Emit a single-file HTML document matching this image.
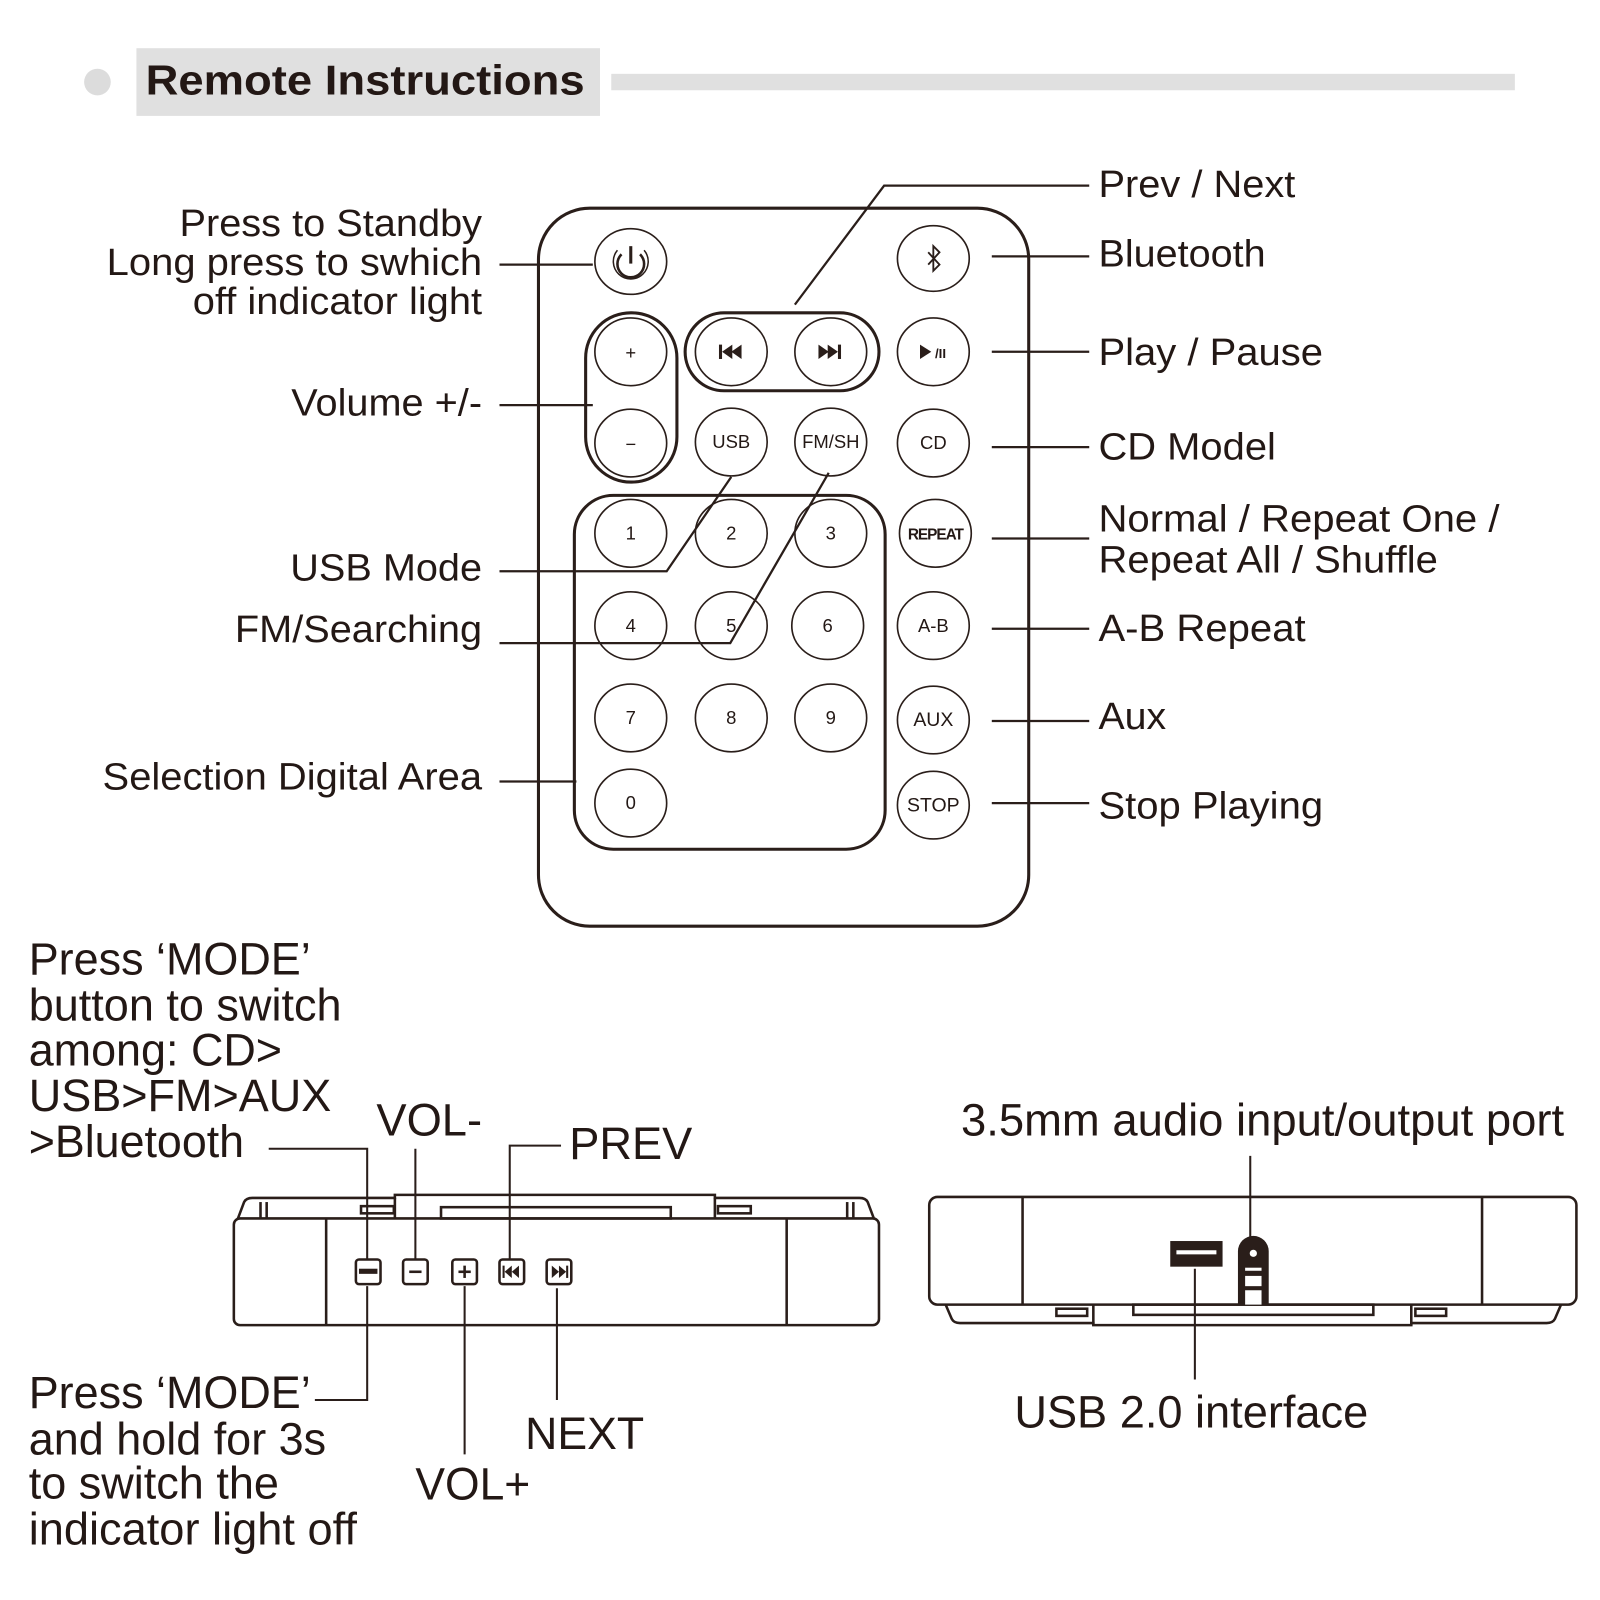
<!DOCTYPE html>
<html><head><meta charset="utf-8"><style>
html,body{margin:0;padding:0;background:#fff;}
svg{display:block;}
text{font-family:"Liberation Sans",Arial,sans-serif;fill:#231815;}
</style></head><body>
<svg width="1600" height="1600" viewBox="0 0 1560 1560" xmlns="http://www.w3.org/2000/svg">
<g>
<circle cx="95" cy="80" r="13" fill="#dcdcdc"/>
<rect x="133" y="47" width="452" height="66" fill="#e0e0e0"/>
<text x="142" y="92" font-size="41" font-weight="bold" textLength="428" lengthAdjust="spacingAndGlyphs">Remote Instructions</text>
<rect x="596" y="72" width="881" height="16" fill="#e0e0e0"/>
</g>

<g fill="none" stroke="#2a1e1a">
<rect x="525" y="203" width="478" height="700" rx="50" stroke-width="3"/>
<rect x="571" y="305" width="89" height="165" rx="44" stroke-width="3"/>
<rect x="668" y="305" width="189" height="76" rx="38" stroke-width="3"/>
<rect x="560" y="483" width="303" height="345" rx="38" stroke-width="3"/>
<g stroke-width="1.6">
<ellipse cx="615" cy="255" rx="35" ry="32"/>
<ellipse cx="910" cy="252" rx="35" ry="32"/>
<ellipse cx="615" cy="343" rx="35" ry="33"/>
<ellipse cx="615" cy="432" rx="35" ry="33"/>
<ellipse cx="713" cy="343" rx="35" ry="33"/>
<ellipse cx="810" cy="343" rx="35" ry="33"/>
<ellipse cx="910" cy="343" rx="35" ry="33"/>
<ellipse cx="713" cy="431" rx="35" ry="33"/>
<ellipse cx="810" cy="431" rx="35" ry="33"/>
<ellipse cx="910" cy="432" rx="35" ry="33"/>
<ellipse cx="615" cy="520" rx="35" ry="33"/>
<ellipse cx="713" cy="520" rx="35" ry="33"/>
<ellipse cx="810" cy="520" rx="35" ry="33"/>
<ellipse cx="615" cy="610" rx="35" ry="33"/>
<ellipse cx="713" cy="610" rx="35" ry="33"/>
<ellipse cx="807" cy="610" rx="35" ry="33"/>
<ellipse cx="615" cy="700" rx="35" ry="33"/>
<ellipse cx="713" cy="700" rx="35" ry="33"/>
<ellipse cx="810" cy="700" rx="35" ry="33"/>
<ellipse cx="615" cy="783" rx="35" ry="33"/>
<ellipse cx="912" cy="520" rx="35" ry="33"/>
<ellipse cx="910" cy="610" rx="35" ry="33"/>
<ellipse cx="910" cy="702" rx="35" ry="33"/>
<ellipse cx="910" cy="785" rx="35" ry="33"/>
</g>
<path d="M606 248 A13 13 0 1 0 624 248" stroke-width="2.5"/>
<path d="M602 244 A17 17 0 1 0 628 244" stroke-width="1.5"/>
<line x1="615" y1="240" x2="615" y2="257" stroke-width="3"/>
<path d="M905 246 L916 258 L910 264 L910 240 L916 246 L905 258" stroke-width="1.8"/>
<g stroke-width="2.2">
<polyline points="487,258 578,258"/>
<polyline points="487,395 578,395"/>
<polyline points="487,557 650,557 713,465"/>
<polyline points="487,627 712,627 808,461"/>
<polyline points="487,762 562,762"/>
<polyline points="1062,181 862,181 775,297"/>
<line x1="967" y1="250" x2="1062" y2="250"/>
<line x1="967" y1="343" x2="1062" y2="343"/>
<line x1="967" y1="436" x2="1062" y2="436"/>
<line x1="967" y1="525" x2="1062" y2="525"/>
<line x1="967" y1="613" x2="1062" y2="613"/>
<line x1="967" y1="703" x2="1062" y2="703"/>
<line x1="967" y1="783" x2="1062" y2="783"/>
</g>
</g>
<g fill="#2a1e1a">
<rect x="701" y="336" width="3" height="14"/>
<path d="M704 343 L714 336 L714 350Z M713 343 L723 336 L723 350Z"/>
<path d="M798 336 L808 343 L798 350Z M807 336 L817 343 L807 350Z"/>
<rect x="817" y="336" width="3" height="14"/>
<path d="M897 336 L908 343 L897 350Z"/>
</g>
<g font-size="18" text-anchor="middle">
<text x="615" y="350">+</text>
<text x="615" y="439">−</text>
<text x="917" y="349" font-size="13" font-weight="bold">/II</text>
<text x="713" y="437">USB</text>
<text x="810" y="437">FM/SH</text>
<text x="910" y="438">CD</text>
<text x="615" y="526">1</text><text x="713" y="526">2</text><text x="810" y="526">3</text>
<text x="615" y="616">4</text><text x="713" y="616">5</text><text x="807" y="616">6</text>
<text x="615" y="706">7</text><text x="713" y="706">8</text><text x="810" y="706">9</text>
<text x="615" y="789">0</text>
<text x="912" y="526" font-size="15" font-weight="bold" letter-spacing="-1">REPEAT</text>
<text x="910" y="616">A-B</text>
<text x="910" y="708" font-size="19">AUX</text>
<text x="910" y="791" font-size="19">STOP</text>
</g>

<g font-size="37" lengthAdjust="spacingAndGlyphs">
<text x="175" y="230" textLength="295" lengthAdjust="spacingAndGlyphs">Press to Standby</text>
<text x="104" y="268" textLength="366" lengthAdjust="spacingAndGlyphs">Long press to swhich</text>
<text x="188" y="306" textLength="282" lengthAdjust="spacingAndGlyphs">off indicator light</text>
<text x="284" y="405" textLength="186" lengthAdjust="spacingAndGlyphs">Volume +/-</text>
<text x="283" y="566" textLength="187" lengthAdjust="spacingAndGlyphs">USB Mode</text>
<text x="229" y="626" textLength="241" lengthAdjust="spacingAndGlyphs">FM/Searching</text>
<text x="100" y="770" textLength="370" lengthAdjust="spacingAndGlyphs">Selection Digital Area</text>
<text x="1071" y="192" textLength="192" lengthAdjust="spacingAndGlyphs">Prev / Next</text>
<text x="1071" y="260" textLength="163" lengthAdjust="spacingAndGlyphs">Bluetooth</text>
<text x="1071" y="356" textLength="219" lengthAdjust="spacingAndGlyphs">Play / Pause</text>
<text x="1071" y="448" textLength="173" lengthAdjust="spacingAndGlyphs">CD Model</text>
<text x="1071" y="518" textLength="391" lengthAdjust="spacingAndGlyphs">Normal / Repeat One /</text>
<text x="1071" y="558" textLength="331" lengthAdjust="spacingAndGlyphs">Repeat All / Shuffle</text>
<text x="1071" y="625" textLength="202" lengthAdjust="spacingAndGlyphs">A-B Repeat</text>
<text x="1071" y="711" textLength="66" lengthAdjust="spacingAndGlyphs">Aux</text>
<text x="1071" y="798" textLength="219" lengthAdjust="spacingAndGlyphs">Stop Playing</text>
</g>

<g font-size="44">
<text x="28" y="950" textLength="275" lengthAdjust="spacingAndGlyphs">Press ‘MODE’</text>
<text x="28" y="995" textLength="305" lengthAdjust="spacingAndGlyphs">button to switch</text>
<text x="28" y="1039" textLength="247" lengthAdjust="spacingAndGlyphs">among: CD&gt;</text>
<text x="28" y="1083" textLength="295" lengthAdjust="spacingAndGlyphs">USB&gt;FM&gt;AUX</text>
<text x="28" y="1128" textLength="210" lengthAdjust="spacingAndGlyphs">&gt;Bluetooth</text>
<text x="367" y="1107" textLength="103" lengthAdjust="spacingAndGlyphs">VOL-</text>
<text x="555" y="1130" textLength="120" lengthAdjust="spacingAndGlyphs">PREV</text>
<text x="28" y="1373" textLength="275" lengthAdjust="spacingAndGlyphs">Press ‘MODE’</text>
<text x="28" y="1418" textLength="290" lengthAdjust="spacingAndGlyphs">and hold for 3s</text>
<text x="28" y="1461" textLength="244" lengthAdjust="spacingAndGlyphs">to switch the</text>
<text x="28" y="1506" textLength="320" lengthAdjust="spacingAndGlyphs">indicator light off</text>
<text x="512" y="1413" textLength="116" lengthAdjust="spacingAndGlyphs">NEXT</text>
<text x="405" y="1462" textLength="112" lengthAdjust="spacingAndGlyphs">VOL+</text>
<text x="937" y="1107" textLength="588" lengthAdjust="spacingAndGlyphs">3.5mm audio input/output port</text>
<text x="989" y="1392" textLength="345" lengthAdjust="spacingAndGlyphs">USB 2.0 interface</text>
</g>

<g fill="none" stroke="#2a1e1a" stroke-width="2.5">
<path d="M232 1188 L238 1172 Q240 1168 246 1168 L385 1168 L385 1165 L697 1165 L697 1168 L838 1168 Q844 1168 846 1172 L852 1188"/>
<rect x="228" y="1188" width="629" height="104" rx="6"/>
<line x1="318" y1="1188" x2="318" y2="1292"/>
<line x1="767" y1="1188" x2="767" y2="1292"/>
<line x1="385" y1="1168" x2="385" y2="1188"/>
<line x1="697" y1="1168" x2="697" y2="1188"/>
<rect x="430" y="1177" width="224" height="11"/>
<rect x="352" y="1176" width="32" height="7"/>
<rect x="700" y="1176" width="32" height="7"/>
<line x1="254" y1="1172" x2="254" y2="1188"/><line x1="260" y1="1172" x2="260" y2="1188"/>
<line x1="826" y1="1172" x2="826" y2="1188"/><line x1="832" y1="1172" x2="832" y2="1188"/>
<rect x="347" y="1228" width="24" height="24" rx="3"/>
<rect x="393" y="1228" width="24" height="24" rx="3"/>
<rect x="441" y="1228" width="24" height="24" rx="3"/>
<rect x="487" y="1228" width="24" height="24" rx="3"/>
<rect x="533" y="1228" width="24" height="24" rx="3"/>
<line x1="399" y1="1240" x2="411" y2="1240"/>
<line x1="447" y1="1240" x2="459" y2="1240"/><line x1="453" y1="1234" x2="453" y2="1246"/>
<polyline points="262,1120 358,1120 358,1228" stroke-width="2"/>
<line x1="405" y1="1120" x2="405" y2="1228" stroke-width="2"/>
<polyline points="547,1117 497,1117 497,1228" stroke-width="2"/>
<polyline points="307,1365 358,1365 358,1254" stroke-width="2"/>
<line x1="453" y1="1254" x2="453" y2="1418" stroke-width="2"/>
<line x1="543" y1="1256" x2="543" y2="1365" stroke-width="2"/>
<rect x="906" y="1167" width="631" height="105" rx="8"/>
<line x1="997" y1="1167" x2="997" y2="1272"/>
<line x1="1445" y1="1167" x2="1445" y2="1272"/>
<path d="M922 1272 L928 1286 Q930 1290 936 1290 L1066 1290 L1066 1292 L1376 1292 L1376 1290 L1508 1290 Q1514 1290 1516 1286 L1522 1272"/>
<line x1="1066" y1="1272" x2="1066" y2="1292"/>
<line x1="1376" y1="1272" x2="1376" y2="1292"/>
<rect x="1105" y="1272" width="234" height="10"/>
<rect x="1030" y="1276" width="30" height="7"/>
<rect x="1380" y="1276" width="30" height="7"/>
<line x1="1219" y1="1127" x2="1219" y2="1206" stroke-width="2"/>
<line x1="1165" y1="1237" x2="1165" y2="1345" stroke-width="2"/>
</g>
<g fill="#2a1e1a">
<rect x="350" y="1237" width="18" height="5"/>
<rect x="490" y="1234" width="2" height="12"/>
<path d="M492 1240 L499 1234 L499 1246Z M499 1240 L506 1234 L506 1246Z"/>
<path d="M538 1234 L545 1240 L538 1246Z M545 1234 L552 1240 L545 1246Z"/>
<rect x="552" y="1234" width="2" height="12"/>
<rect x="1141" y="1210" width="51" height="25"/>
<path d="M1207 1272 L1207 1220 A15 15 0 0 1 1237 1220 L1237 1272 Z"/>
</g>
<g fill="#fff">
<rect x="1147" y="1219" width="39" height="4"/>
<circle cx="1222" cy="1222" r="3.5"/>
<rect x="1214" y="1236" width="16" height="3"/>
<rect x="1214" y="1244" width="16" height="10"/>
<rect x="1214" y="1258" width="16" height="14"/>
</g>
</svg>
</body></html>
